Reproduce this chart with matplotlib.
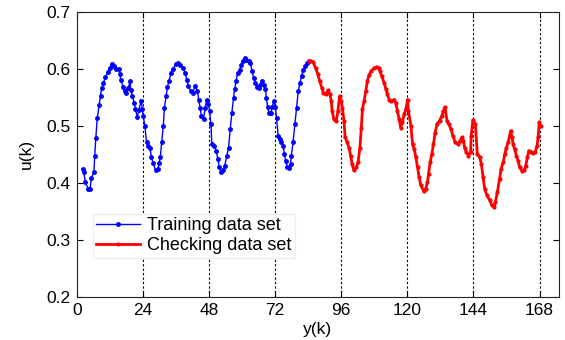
import matplotlib
matplotlib.use('Agg')
import matplotlib.pyplot as plt

plt.rcParams['font.family'] = ['Liberation Sans', 'DejaVu Sans']

# training data (blue)
train_k = [2.1, 2.5, 3.1, 4.1, 4.8, 5.3, 6.2, 6.5, 6.9, 7.4, 8.1, 8.6, 9.0, 9.6, 10.4,
           11.2, 12.0, 12.8, 13.5, 14.4, 15.3, 15.6, 16.0, 16.8, 17.4, 18.0, 18.7, 19.3,
           19.6, 20.2, 20.8, 21.3, 21.9, 22.5, 23.3, 23.8, 24.1, 24.7, 25.3, 25.9, 26.5,
           27.1, 27.7, 28.6, 29.3, 29.9, 30.3, 30.8, 31.4, 31.8, 32.4, 32.9, 33.5, 34.2,
           35.0, 35.9, 36.8, 37.6, 38.5, 39.3, 39.9, 40.5, 41.4, 42.1, 43.0, 43.8, 44.2,
           44.8, 45.2, 46.0, 46.6, 47.2, 47.8, 48.2, 48.7, 49.0, 49.9, 50.6, 51.2, 51.7,
           52.3, 52.9, 53.7, 54.5, 55.1, 55.7, 56.3, 56.9, 57.3, 57.8, 58.4, 59.1, 59.7,
           60.3, 60.9, 61.5, 62.4, 63.0, 63.6, 64.2, 64.8, 65.4, 66.0, 66.6, 67.3, 67.9,
           68.5, 68.8, 69.3, 69.7, 70.5, 70.9, 71.5, 72.1, 72.5, 73.1, 73.7, 74.3, 74.9,
           75.4, 75.8, 76.4, 77.0, 77.6, 77.9, 78.5, 79.2, 79.8, 80.4, 81.0, 81.6, 82.2,
           83.0, 83.6, 84.3]
train_u = [0.424, 0.419, 0.401, 0.390, 0.390, 0.409, 0.419, 0.448, 0.479, 0.513, 0.536,
           0.552, 0.566, 0.575, 0.585, 0.594, 0.601, 0.608, 0.605, 0.600, 0.600, 0.590,
           0.580, 0.568, 0.561, 0.558, 0.566, 0.578, 0.562, 0.553, 0.540, 0.529, 0.516,
           0.527, 0.543, 0.530, 0.517, 0.500, 0.471, 0.465, 0.462, 0.445, 0.434, 0.422,
           0.424, 0.434, 0.445, 0.471, 0.500, 0.532, 0.552, 0.568, 0.579, 0.593, 0.600,
           0.608, 0.610, 0.606, 0.601, 0.593, 0.581, 0.570, 0.561, 0.558, 0.570, 0.561,
           0.546, 0.532, 0.517, 0.512, 0.532, 0.546, 0.538, 0.526, 0.503, 0.468, 0.465,
           0.456, 0.442, 0.428, 0.419, 0.422, 0.430, 0.448, 0.462, 0.494, 0.523, 0.549,
           0.564, 0.578, 0.593, 0.598, 0.607, 0.614, 0.619, 0.616, 0.613, 0.610, 0.596,
           0.584, 0.575, 0.568, 0.566, 0.571, 0.578, 0.572, 0.564, 0.549, 0.533, 0.523,
           0.523, 0.533, 0.543, 0.533, 0.514, 0.483, 0.477, 0.471, 0.465, 0.451, 0.439,
           0.428, 0.426, 0.433, 0.448, 0.471, 0.503, 0.532, 0.561, 0.575, 0.587, 0.598,
           0.604, 0.610, 0.613]

# checking data (red)
check_k = [84.3, 84.8, 85.8, 86.7, 87.5, 88.2, 88.9, 89.5, 90.3, 91.2, 91.9, 92.4, 92.7,
           93.3, 94.2, 94.8, 95.4, 96.0, 96.4, 97.0, 97.4, 98.2, 98.8, 99.4, 100.0, 100.6,
           101.5, 102.1, 102.8, 103.3, 103.7, 104.3, 104.9, 105.5, 106.1, 106.9, 107.9,
           108.9, 109.7, 110.1, 110.7, 111.6, 112.2, 112.8, 113.4, 114.2, 115.2, 115.8,
           116.4, 117.0, 117.6, 118.2, 118.8, 119.5, 120.1, 120.4, 121.3, 121.9, 122.5,
           123.1, 123.7, 124.3, 124.9, 125.9, 126.7, 127.3, 127.7, 128.3, 128.9, 129.5,
           130.1, 130.8, 131.7, 132.5, 133.1, 133.7, 134.4, 135.0, 135.9, 136.5, 137.4,
           138.4, 139.2, 139.8, 140.4, 140.8, 141.4, 142.2, 143.0, 143.2, 143.8, 144.7,
           145.4, 146.3, 146.9, 147.5, 148.1, 148.9, 149.9, 150.7, 151.5, 152.0, 152.7,
           153.5, 154.1, 154.8, 155.4, 156.0, 156.6, 157.2, 157.5, 158.0, 158.4, 159.0,
           159.6, 160.2, 160.8, 161.7, 162.4, 163.0, 163.6, 164.1, 164.8, 165.7, 166.5,
           167.1, 167.5, 167.9, 168.4]
check_u = [0.613, 0.614, 0.612, 0.601, 0.590, 0.578, 0.567, 0.558, 0.555, 0.562, 0.555,
           0.543, 0.526, 0.512, 0.508, 0.526, 0.552, 0.543, 0.532, 0.509, 0.480, 0.471,
           0.462, 0.448, 0.433, 0.422, 0.427, 0.436, 0.462, 0.497, 0.529, 0.543, 0.561,
           0.578, 0.589, 0.596, 0.601, 0.603, 0.601, 0.596, 0.587, 0.575, 0.565, 0.555,
           0.546, 0.543, 0.546, 0.540, 0.526, 0.512, 0.497, 0.506, 0.520, 0.529, 0.546,
           0.526, 0.500, 0.468, 0.459, 0.445, 0.427, 0.410, 0.396, 0.386, 0.390, 0.401,
           0.416, 0.436, 0.451, 0.468, 0.488, 0.503, 0.509, 0.517, 0.526, 0.533, 0.509,
           0.503, 0.494, 0.483, 0.471, 0.468, 0.474, 0.480, 0.474, 0.462, 0.454, 0.448,
           0.454, 0.483, 0.510, 0.503, 0.451, 0.445, 0.433, 0.410, 0.390, 0.378, 0.370,
           0.361, 0.358, 0.367, 0.384, 0.407, 0.425, 0.436, 0.451, 0.462, 0.471, 0.483,
           0.491, 0.480, 0.468, 0.459, 0.448, 0.439, 0.427, 0.421, 0.422, 0.430, 0.445,
           0.456, 0.455, 0.453, 0.455, 0.465, 0.480, 0.506, 0.500]

x_ticks = [0, 24, 48, 72, 96, 120, 144, 168]
y_ticks = [0.2, 0.3, 0.4, 0.5, 0.6, 0.7]
y_labels = ['0.2', '0.3', '0.4', '0.5', '0.6', '0.7']

fig = plt.figure(figsize=(5.65, 3.4), dpi=100)
ax = fig.add_axes([0.136, 0.126, 0.853, 0.84])

# dotted vertical guides at every tick except 0
for xv in x_ticks[1:]:
    ax.axvline(xv, color='black', linestyle=(0, (2, 2)), linewidth=0.8, zorder=1)

ax.plot(train_k, train_u, color='blue', linewidth=1.0, marker='.', markersize=5,
        label='Training data set', zorder=3)
ax.plot(check_k, check_u, color='red', linewidth=2.0, marker='.', markersize=4,
        label='Checking data set', zorder=3)

ax.set_xlim(0, 175)
ax.set_ylim(0.2, 0.7)
ax.set_xticks(x_ticks)
ax.set_yticks(y_ticks)
ax.set_yticklabels(y_labels)
ax.tick_params(direction='in', length=4, labelsize=12.5, top=True, right=True)
ax.tick_params(axis='y', pad=4.5)
ax.tick_params(axis='x', pad=4)
for s in ax.spines.values():
    s.set_color('#222222')

ax.set_xlabel('y(k)', fontsize=12.5, labelpad=3)
ax.set_ylabel('u(k)', fontsize=12.5, labelpad=9)

leg = ax.legend(loc='lower left', bbox_to_anchor=(0.0326, 0.137), fontsize=13,
                handlelength=2.45, handletextpad=0.35, borderpad=0.2,
                labelspacing=0.18, fancybox=False, framealpha=1, borderaxespad=0)
leg.get_frame().set_edgecolor('#eeeeee')

plt.savefig('out.png', dpi=100)
